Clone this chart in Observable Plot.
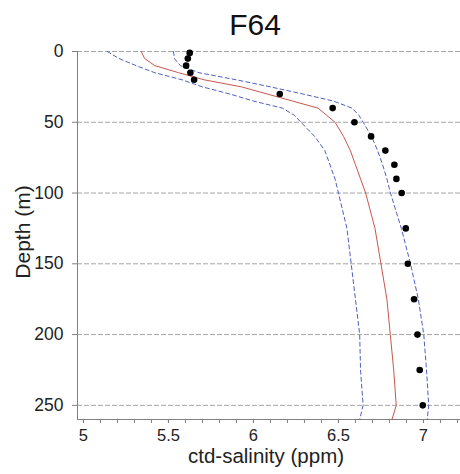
<!DOCTYPE html>
<html>
<head>
<meta charset="utf-8">
<script src="https://cdn.jsdelivr.net/npm/d3@7"></script>
<script src="https://cdn.jsdelivr.net/npm/@observablehq/plot@0.6"></script>
<style>
  html, body { margin: 0; padding: 0; background: #fff; }
  #chart svg { display: block; }
</style>
</head>
<body>
<div id="chart"></div>
<script>
// Model profile (depth in m, salinity in ppm)
const curveDepth = [0, 5, 10, 15, 20, 25, 30, 35, 40, 45, 50, 60, 70, 80, 90, 100, 125, 150, 175, 200, 225, 250, 260];
const medianSal  = [5.34, 5.36, 5.42, 5.56, 5.71, 5.93, 6.08, 6.23, 6.38, 6.43, 6.48, 6.53, 6.57, 6.60, 6.63, 6.66, 6.715, 6.75, 6.785, 6.805, 6.825, 6.84, 6.815];
const lowerSal   = [5.14, 5.21, 5.31, 5.42, 5.58, 5.70, 5.86, 6.00, 6.17, 6.24, 6.28, 6.36, 6.42, 6.45, 6.48, 6.50, 6.55, 6.575, 6.60, 6.625, 6.63, 6.645, 6.625];
const upperSal   = [5.53, 5.535, 5.57, 5.68, 5.90, 6.10, 6.29, 6.47, 6.58, 6.62, 6.645, 6.695, 6.73, 6.76, 6.785, 6.806, 6.87, 6.924, 6.97, 7.002, 7.018, 7.031, 7.022];

// Observations
const obsDepth = [1, 5, 10, 15, 20, 30, 40, 50, 60, 70, 80, 90, 100, 125, 150, 175, 200, 225, 250];
const obsSal   = [5.625, 5.614, 5.604, 5.629, 5.651, 6.155, 6.466, 6.594, 6.692, 6.776, 6.829, 6.841, 6.872, 6.896, 6.908, 6.945, 6.965, 6.978, 6.996];

// Axis ticks
const depthTicks = [0, 50, 100, 150, 200, 250];
const salTicks = [5, 5.5, 6, 6.5, 7];
const salMinorTicks = [5, 5.1, 5.2, 5.3, 5.4, 5.5, 5.6, 5.7, 5.8, 5.9, 6, 6.1, 6.2, 6.3, 6.4, 6.5, 6.6, 6.7, 6.8, 6.9, 7, 7.1, 7.2];

const titleText = "F64";
const xLabel = "ctd-salinity (ppm)";
const yLabel = "Depth (m)";

const xDomain = [4.965, 7.218];
const yDomain = [0, 260];

const curve = (vals) => curveDepth.map((d, i) => ({depth: d, sal: vals[i]}));
const obs = obsDepth.map((d, i) => ({depth: d, sal: obsSal[i]}));

const font = "'Liberation Sans', Arial, Helvetica, sans-serif";

const plot = Plot.plot({
  width: 460,
  height: 474,
  marginLeft: 77,
  marginRight: 0,
  marginTop: 51,
  marginBottom: 55,
  style: {fontFamily: font, background: "#fff", color: "#222"},
  x: {domain: xDomain},
  y: {domain: yDomain, reverse: true},
  marks: [
    Plot.ruleY(depthTicks, {stroke: "#a5a5a5", strokeWidth: 1, strokeDasharray: "5,2"}),
    Plot.ruleX([xDomain[0]], {stroke: "#808080", strokeWidth: 1}),
    Plot.ruleY([yDomain[1]], {stroke: "#808080", strokeWidth: 1}),
    Plot.axisY({ticks: depthTicks, tickSize: 5, tickPadding: 9, fontSize: 17.5, label: null, stroke: "#808080", fill: "#222", tickFormat: d => String(d)}),
    Plot.axisX({ticks: salMinorTicks, tickSize: 4, tickFormat: () => "", label: null, stroke: "#808080"}),
    Plot.axisX({ticks: salTicks, tickSize: 4, tickPadding: 6, fontSize: 16.5, label: null, stroke: "#808080", fill: "#222", tickFormat: d => String(d)}),
    Plot.line(curve(lowerSal), {x: "sal", y: "depth", stroke: "#4f5fbf", strokeWidth: 1, strokeDasharray: "4,3"}),
    Plot.line(curve(upperSal), {x: "sal", y: "depth", stroke: "#4f5fbf", strokeWidth: 1, strokeDasharray: "4,3"}),
    Plot.line(curve(medianSal), {x: "sal", y: "depth", stroke: "#c8574c", strokeWidth: 1}),
    Plot.dot(obs, {x: "sal", y: "depth", r: 3.3, fill: "#000", stroke: "none"})
  ]
});

const svg = d3.select(plot);
svg.append("text")
  .attr("x", 255).attr("y", 35)
  .attr("text-anchor", "middle")
  .attr("font-family", font).attr("font-size", 30).attr("fill", "#111")
  .text(titleText);
svg.append("text")
  .attr("x", 266).attr("y", 463)
  .attr("text-anchor", "middle")
  .attr("font-family", font).attr("font-size", 20.5).attr("fill", "#222")
  .text(xLabel);
svg.append("text")
  .attr("transform", "translate(29.5,232) rotate(-90)")
  .attr("text-anchor", "middle")
  .attr("font-family", font).attr("font-size", 21).attr("fill", "#222")
  .text(yLabel);

document.getElementById("chart").appendChild(plot);
</script>
</body>
</html>
